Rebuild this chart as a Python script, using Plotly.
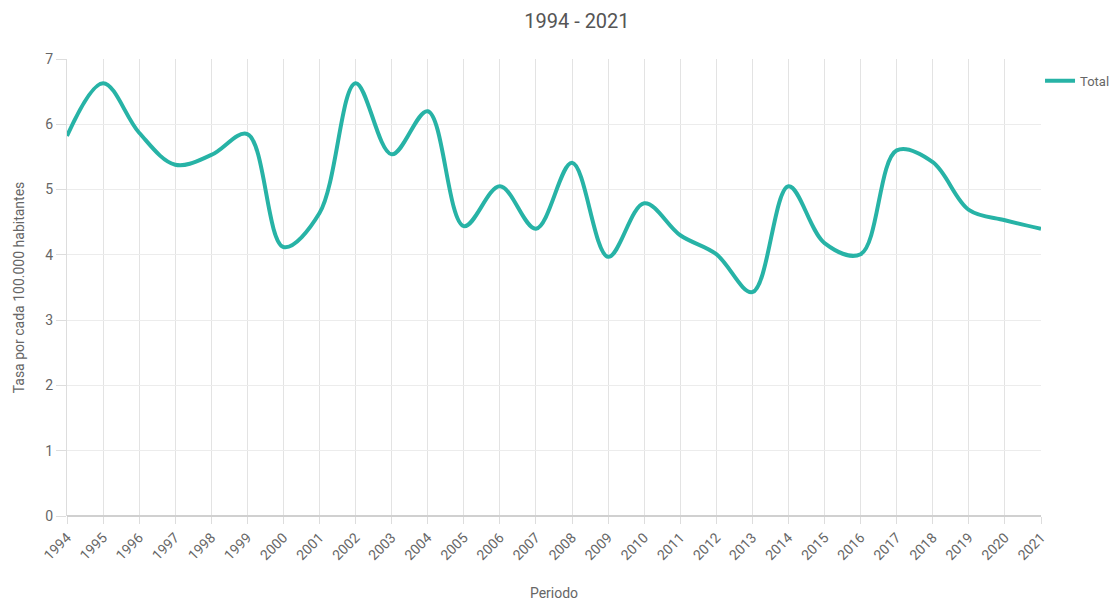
import plotly.graph_objects as go

years = [str(y) for y in range(1994, 2022)]
total = [5.82, 6.63, 5.87, 5.38, 5.53, 5.85, 4.12, 4.64, 6.63, 5.54, 6.20, 4.44,
         5.05, 4.40, 5.41, 3.97, 4.79, 4.30, 4.01, 3.43, 5.05, 4.18, 4.01, 5.60,
         5.42, 4.69, 4.53, 4.40]
y_ticks = [0, 1, 2, 3, 4, 5, 6, 7]

line_color = "#27b3a6"
font_family = "Roboto, Arial, sans-serif"

fig = go.Figure()
fig.add_trace(go.Scatter(
    x=years, y=total, name="Total", mode="lines",
    line=dict(color=line_color, width=4, shape="spline", smoothing=1.0),
))

fig.update_layout(
    width=1109, height=598,
    paper_bgcolor="white", plot_bgcolor="white",
    margin=dict(l=59, r=76, t=51, b=90, autoexpand=False),
    font=dict(family=font_family, color="#666666", size=13),
    title=dict(text="1994 - 2021", x=0.513, xanchor="center", y=0.978, yanchor="middle",
               font=dict(size=20, color="#555555", family=font_family)),
    showlegend=True,
    legend=dict(x=0.999, xanchor="left", y=0.985, yanchor="top", bgcolor="rgba(0,0,0,0)",
                font=dict(size=13, color="#666666"), itemwidth=30),
    xaxis=dict(
        type="category", range=[0, 27], tickangle=-45,
        showgrid=True, gridcolor="#e3e3e3", gridwidth=1,
        ticks="outside", ticklen=7, tickcolor="#dddddd",
        tickfont=dict(size=14, color="#666666"),
        showline=False, zeroline=False,
        title=dict(text="Periodo", font=dict(size=14, color="#666666"), standoff=26),
    ),
    yaxis=dict(
        range=[0, 7], tickvals=y_ticks,
        showgrid=True, gridcolor="#ececec", gridwidth=1,
        ticks="outside", ticklen=10, tickcolor="#dddddd",
        tickfont=dict(size=14, color="#666666"),
        zeroline=True, zerolinecolor="#d0d0d0", zerolinewidth=2,
        showline=True, linecolor="#dddddd", linewidth=1,
        title=dict(text="Tasa por cada 100.000 habitantes", font=dict(size=14, color="#666666"), standoff=17),
    ),
)

fig.write_html("out.html")
